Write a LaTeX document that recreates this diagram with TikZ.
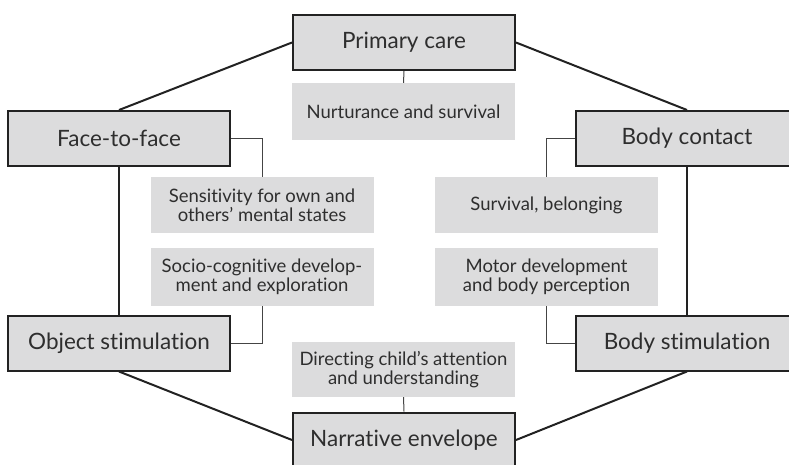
\documentclass[tikz,border=0pt]{standalone}
\usepackage{fontspec}
\setmainfont{Lato}[Ligatures=NoCommon]
\definecolor{boxfill}{HTML}{DCDCDD}
\definecolor{txt}{HTML}{2E2E2E}
\definecolor{edge}{HTML}{222222}
\definecolor{thinline}{HTML}{444444}
\newcommand{\tinobreak}{t\kern0pt i}
\tikzset{
  mainbox/.style={draw=edge, line width=2pt, fill=boxfill, text=txt,
    minimum width=222pt, minimum height=55pt, inner sep=0pt,
    font=\fontsize{22.5}{26}\selectfont},
  subbox/.style={fill=boxfill, text=txt, minimum width=223pt, inner sep=0pt,
    align=center, font=\fontsize{18.5}{19}\selectfont},
  thick link/.style={draw=edge, line width=2pt},
  thin link/.style={draw=thinline, line width=1pt},
}
\begin{document}
\begin{tikzpicture}[x=1pt,y=-1pt]
\useasboundingbox (0,0) rectangle (789,464);
% main boxes
\node[mainbox] (pc) at (404,42.5) {Primary care};
\node[mainbox] (ff) at (119,138.5) {Face-to-face};
\node[mainbox] (bc) at (687,138.5) {Body contact};
\node[mainbox] (os) at (119,343) {Object s\tinobreak mula\tinobreak on};
\node[mainbox] (bs) at (687,343) {Body s\tinobreak mula\tinobreak on};
\node[mainbox] (ne) at (404,440) {Narra\tinobreak ve envelope};
% sub boxes
\node[subbox, minimum height=57pt] (nu) at (403.5,111.5) {Nurturance and survival};
\node[subbox, minimum height=56pt] (se) at (262,205) {Sensi\tinobreak vity for own and\\others’ mental states};
\node[subbox, minimum height=56pt] (sv) at (546.5,205) {Survival, belonging};
\node[subbox, minimum height=58pt] (sc) at (262,277) {Socio-cogni\tinobreak ve develop-\\ment and explora\tinobreak on};
\node[subbox, minimum height=58pt] (md) at (546.5,277) {Motor development\\and body percep\tinobreak on};
\node[subbox, minimum height=55pt] (dc) at (403.5,369.5) {Direc\tinobreak ng child’s a\kern0pt t\kern0pt ten\tinobreak on\\and understanding};
% thick connectors
\draw[thick link] (ff.north) -- (pc.west);
\draw[thick link] (pc.east) -- (bc.north);
\draw[thick link] (ff.south) -- (os.north);
\draw[thick link] (bc.south) -- (bs.north);
\draw[thick link] (os.south) -- (ne.west);
\draw[thick link] (bs.south) -- (ne.east);
% thin connectors
\draw[thin link] (pc.south) -- (nu.north);
\draw[thin link] (ff.east) -| (se.north);
\draw[thin link] (bc.west) -| (sv.north);
\draw[thin link] (sc.south) |- (os.east);
\draw[thin link] (md.south) |- (bs.west);
\draw[thin link] (ne.north) -- (dc.south);
\end{tikzpicture}
\end{document}
